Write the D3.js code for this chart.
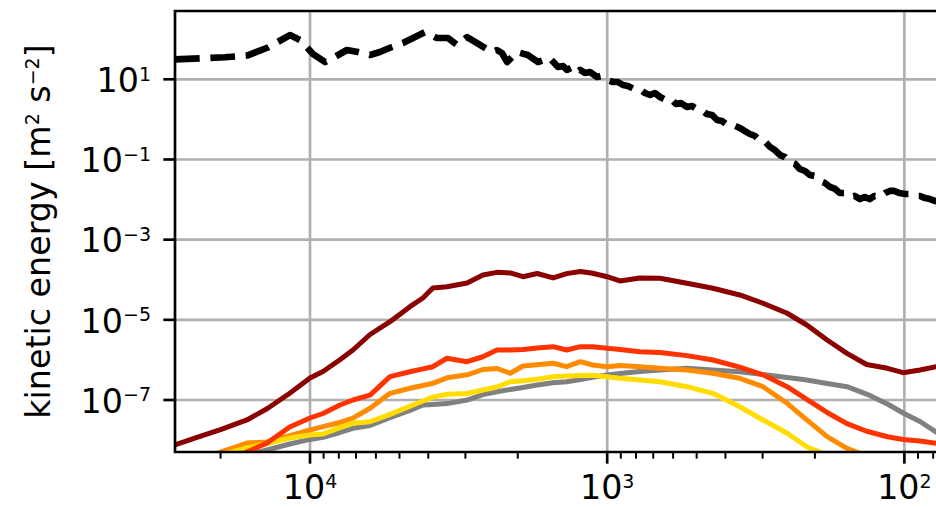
<!DOCTYPE html>
<html>
<head>
<meta charset="utf-8">
<script src="https://cdn.jsdelivr.net/npm/d3@7"></script>
<style>
  body { margin: 0; background: #fff; }
  svg { display: block; }
  text { font-family: "DejaVu Sans", sans-serif; fill: #000; }
</style>
</head>
<body>
<svg id="chart" width="936" height="507"></svg>
<script>
// Wavelength samples shared by the coloured spectra (m)
const wavelength = [28500, 23450, 20000, 16300, 13950, 11700, 10000, 9040, 7930, 7170,
  6280, 5380, 4610, 4170, 3860, 3460, 2960, 2620, 2350, 2120,
  1920, 1720, 1520, 1370, 1230, 1120, 1000, 906, 776, 664,
  539, 441, 358, 299, 248, 213, 182, 156, 134, 114,
  101, 88.6, 73];

// Kinetic energy spectra (m^2 s^-2)
const keDarkRed = [7.55e-9, 1.24e-8, 1.83e-8, 3.18e-8, 6.07e-8, 1.48e-7, 3.54e-7, 5.14e-7, 1.01e-6, 1.77e-6,
  4.31e-6, 8.99e-6, 2.13e-5, 3.51e-5, 6.22e-5, 6.71e-5, 8.30e-5, 1.31e-4, 1.53e-4, 1.48e-4,
  1.19e-4, 1.43e-4, 1.11e-4, 1.42e-4, 1.61e-4, 1.45e-4, 1.19e-4, 9.31e-5, 1.11e-4, 1.09e-4,
  8.15e-5, 6.12e-5, 4.17e-5, 2.59e-5, 1.46e-5, 7.44e-6, 3.14e-6, 1.46e-6, 7.69e-7, 6.18e-7,
  4.81e-7, 5.61e-7, 7.48e-7];
const keRed = [8.04e-10, 1.51e-9, 2.54e-9, 5.05e-9, 8.47e-9, 2.12e-8, 3.56e-8, 4.61e-8, 7.51e-8, 1.0e-7,
  1.33e-7, 3.82e-7, 5.08e-7, 5.98e-7, 6.78e-7, 1.10e-6, 9.03e-7, 1.20e-6, 1.77e-6, 1.77e-6,
  1.83e-6, 1.99e-6, 2.14e-6, 1.77e-6, 2.14e-6, 2.14e-6, 1.95e-6, 1.82e-6, 1.60e-6, 1.53e-6,
  1.28e-6, 9.96e-7, 6.59e-7, 4.26e-7, 2.15e-7, 1.04e-7, 4.89e-8, 2.58e-8, 1.66e-8, 1.21e-8,
  1.04e-8, 9.50e-9, 7.77e-9];
const keOrange = [2.13e-9, 3.38e-9, 5.05e-9, 8.47e-9, 8.97e-9, 1.30e-8, 1.79e-8, 2.16e-8, 2.75e-8, 3.52e-8,
  6.22e-8, 1.47e-7, 1.96e-7, 2.30e-7, 2.61e-7, 3.58e-7, 4.26e-7, 5.77e-7, 6.11e-7, 4.65e-7,
  7.06e-7, 7.60e-7, 8.24e-7, 6.78e-7, 9.03e-7, 7.48e-7, 6.78e-7, 7.26e-7, 6.78e-7, 6.18e-7,
  5.61e-7, 4.65e-7, 3.48e-7, 2.15e-7, 8.28e-8, 3.18e-8, 1.22e-8, 6.25e-9, 4.02e-9, 2.85e-9,
  2.26e-9, 1.80e-9, 1.35e-9];
const keYellow = [2.01e-9, 3.01e-9, 4.25e-9, 6.35e-9, 8.23e-9, 1.13e-8, 1.34e-8, 1.42e-8, 2.05e-8, 2.65e-8,
  2.88e-8, 4.38e-8, 7.01e-8, 9.46e-8, 1.18e-7, 1.39e-7, 1.45e-7, 1.78e-7, 2.11e-7, 2.86e-7,
  3.03e-7, 3.29e-7, 3.82e-7, 3.95e-7, 4.09e-7, 4.14e-7, 3.82e-7, 3.48e-7, 3.16e-7, 2.86e-7,
  2.15e-7, 1.47e-7, 6.81e-8, 3.18e-8, 1.48e-8, 6.85e-9, 4.25e-9, 2.85e-9, 2.01e-9, 1.51e-9,
  1.20e-9, 9.55e-10, 7.16e-10];
const keGray = [1.80e-9, 2.69e-9, 3.58e-9, 4.25e-9, 5.67e-9, 8.00e-9, 1.04e-8, 1.17e-8, 1.55e-8, 1.97e-8,
  2.31e-8, 3.64e-8, 5.48e-8, 7.51e-8, 7.78e-8, 8.14e-8, 1.00e-7, 1.36e-7, 1.61e-7, 1.83e-7,
  2.06e-7, 2.37e-7, 2.69e-7, 2.86e-7, 3.25e-7, 3.69e-7, 4.21e-7, 4.59e-7, 5.14e-7, 5.61e-7,
  6.18e-7, 5.61e-7, 5.08e-7, 4.34e-7, 3.65e-7, 3.16e-7, 2.58e-7, 2.15e-7, 1.41e-7, 7.96e-8,
  4.74e-8, 2.91e-8, 1.13e-8];

// Total spectrum (dashed), sampled on its own wavelength grid
const wavelengthTotal = [30750, 23450, 19320, 16290, 13850, 11680, 10800, 9770, 8900, 8370,
  7510, 6900, 6280, 5820, 5300, 4870, 4430, 4100, 3740, 3430,
  3200, 2960, 2740, 2540, 2440, 2350, 2260, 2170, 2010, 1850,
  1710, 1560, 1464, 1408, 1366, 1324, 1284, 1234, 1188, 1143,
  1082, 1041, 1002, 956, 920, 885, 851, 813, 776, 746,
  718, 691, 664, 634, 610, 587, 565, 539, 519, 499,
  480, 462, 444, 427, 411, 395, 377, 358, 344, 331,
  318, 306, 294, 283, 273, 262, 252, 243, 233, 225,
  216, 208, 200, 192, 185, 178, 171, 165, 158, 152,
  147, 141, 136, 131, 126, 121, 116, 112, 108, 104,
  99.5, 95.8, 92.1, 88.6, 85.2, 82.0, 78.9, 73.0];
const keTotal = [30.6, 33.4, 35.4, 39.2, 62.1, 127, 95.6, 42.8, 27.0, 34.0,
  53.8, 48.0, 40.4, 48.0, 63.9, 80.4, 113, 151, 107, 107,
  71.7, 113, 80.4, 57.0, 48.0, 53.8, 45.3, 27.0, 48.0, 40.4,
  27.0, 34.0, 20.3, 21.5, 17.1, 19.1, 14.4, 17.1, 14.4, 15.2,
  11.4, 12.1, 9.61, 8.56, 8.56, 7.21, 6.81, 5.73, 5.73, 4.55,
  4.06, 4.55, 3.62, 3.05, 3.23, 2.42, 2.56, 2.04, 2.16, 1.82,
  1.71, 1.36, 1.29, 0.966, 0.912, 0.725, 0.725, 0.610, 0.513, 0.432,
  0.385, 0.289, 0.273, 0.205, 0.172, 0.129, 0.115, 0.0865, 0.0772, 0.0579,
  0.0516, 0.0410, 0.0387, 0.0290, 0.0259, 0.0206, 0.0184, 0.0146, 0.0146, 0.0116,
  0.0123, 0.0103, 0.0116, 0.0103, 0.0123, 0.0116, 0.0146, 0.0164, 0.0164, 0.0146,
  0.0138, 0.0138, 0.0123, 0.0123, 0.0109, 0.0103, 0.00921, 0.00821];

// Axis ticks
const xMajorTicks = [1e4, 1e3, 1e2];
const xMajorExponents = ["4", "3", "2"];
const xMinorTicks = [20000, 9000, 8000, 7000, 6000, 5000, 4000, 3000, 2000,
  900, 800, 700, 600, 500, 400, 300, 200, 90, 80];
const yMajorTicks = [1e1, 1e-1, 1e-3, 1e-5, 1e-7];
const yMajorExponents = ["1", "\u22121", "\u22123", "\u22125", "\u22127"];

const svg = d3.select("#chart");
const W = 936, H = 507;
svg.append("rect").attr("width", W).attr("height", H).attr("fill", "#fff");

// Axes box (right edge runs past the canvas)
const box = { left: 175, top: 11, bottom: 452, right: 945 };
const x = d3.scaleLog().domain([28460, 73.0]).range([box.left, box.right]);
const y = d3.scaleLog().domain([5.05e-9, 505.5]).range([box.bottom, box.top]);

const fs = 33.3, fsSup = 19, supRise = 11.4;
const lw = 2.67;

svg.append("clipPath").attr("id", "plotclip")
  .append("rect").attr("x", box.left).attr("y", box.top)
  .attr("width", box.right - box.left).attr("height", box.bottom - box.top);

// Grid
const grid = svg.append("g").attr("stroke", "#b0b0b0").attr("stroke-width", lw);
grid.selectAll("line.gx").data(xMajorTicks).join("line")
  .attr("x1", d => x(d)).attr("x2", d => x(d)).attr("y1", box.top).attr("y2", box.bottom);
grid.selectAll("line.gy").data(yMajorTicks).join("line")
  .attr("y1", d => y(d)).attr("y2", d => y(d)).attr("x1", box.left).attr("x2", box.right);

// Spectra
const line = d3.line().x(d => x(d[0])).y(d => y(d[1]));
const plot = svg.append("g").attr("clip-path", "url(#plotclip)");

const series = [
  { ke: keGray, color: "#808080" },
  { ke: keOrange, color: "#ff8c00" },
  { ke: keYellow, color: "#ffdd00" },
  { ke: keRed, color: "#ff3300" },
  { ke: keDarkRed, color: "#8b0000" }
];
series.forEach(s => {
  plot.append("path")
    .attr("d", line(wavelength.map((w, i) => [w, s.ke[i]])))
    .attr("fill", "none").attr("stroke", s.color)
    .attr("stroke-width", 5).attr("stroke-linejoin", "round").attr("stroke-linecap", "square");
});

// Dashed total: phase set so a dash begins at the left spine
plot.append("path")
  .attr("d", line(wavelengthTotal.map((w, i) => [w, keTotal[i]])))
  .attr("fill", "none").attr("stroke", "#000")
  .attr("stroke-width", 6.67).attr("stroke-dasharray", "24.7 10.7")
  .attr("stroke-dashoffset", 25.4)
  .attr("stroke-linejoin", "round").attr("stroke-linecap", "butt");

// Spines
svg.append("path")
  .attr("d", `M${box.right},${box.top}H${box.left}V${box.bottom}H${box.right}`)
  .attr("fill", "none").attr("stroke", "#000").attr("stroke-width", lw)
  .attr("stroke-linecap", "square").attr("stroke-linejoin", "miter");

// Ticks
const ticks = svg.append("g").attr("stroke", "#000");
ticks.selectAll("line.xM").data(xMajorTicks).join("line")
  .attr("x1", d => x(d)).attr("x2", d => x(d))
  .attr("y1", box.bottom).attr("y2", box.bottom + 11.67).attr("stroke-width", lw);
ticks.selectAll("line.xm").data(xMinorTicks).join("line")
  .attr("x1", d => x(d)).attr("x2", d => x(d))
  .attr("y1", box.bottom).attr("y2", box.bottom + 6.67).attr("stroke-width", 2);
ticks.selectAll("line.yM").data(yMajorTicks).join("line")
  .attr("y1", d => y(d)).attr("y2", d => y(d))
  .attr("x1", box.left).attr("x2", box.left - 11.67).attr("stroke-width", lw);

// Tick labels as 10 with a superscript exponent
function powerLabel(sel, exps) {
  sel.append("tspan").attr("font-size", fs).text("10");
  sel.append("tspan").attr("font-size", fsSup).attr("dy", -supRise).text((d, i) => exps[i]);
}
svg.append("g").selectAll("text").data(xMajorTicks).join("text")
  .attr("x", d => x(d)).attr("y", 499).attr("text-anchor", "middle")
  .call(powerLabel, xMajorExponents);
svg.append("g").selectAll("text").data(yMajorTicks).join("text")
  .attr("x", 151).attr("y", d => y(d) + 12.8).attr("text-anchor", "end")
  .call(powerLabel, yMajorExponents);

// Y axis title
const yTitle = svg.append("text")
  .attr("transform", `translate(50,${(box.top + box.bottom) / 2}) rotate(-90)`)
  .attr("text-anchor", "middle").attr("font-size", fs);
yTitle.append("tspan").text("kinetic energy [m");
yTitle.append("tspan").attr("font-size", fsSup).attr("dy", -supRise).text("2");
yTitle.append("tspan").attr("dy", supRise).text(" s");
yTitle.append("tspan").attr("font-size", fsSup).attr("dy", -supRise).text("\u22122");
yTitle.append("tspan").attr("dy", supRise).text("]");
</script>
</body>
</html>
